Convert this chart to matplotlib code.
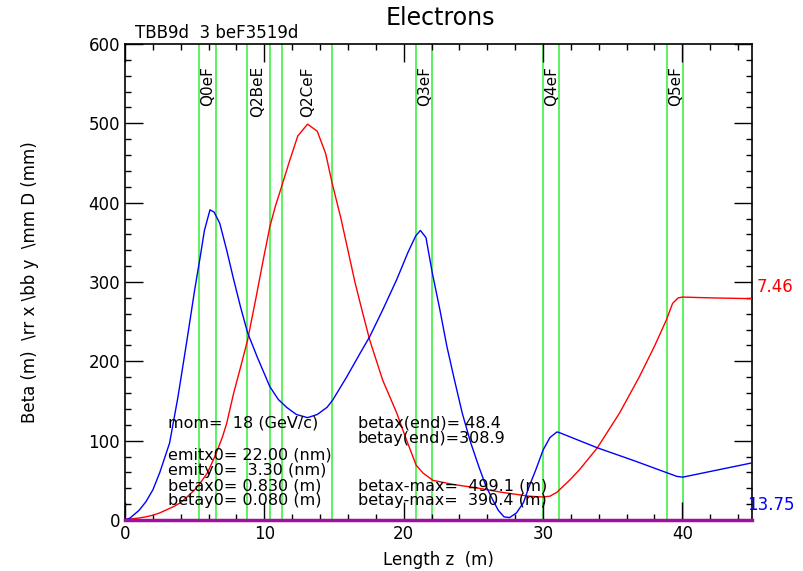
import matplotlib
matplotlib.use("Agg")
import matplotlib.pyplot as plt
from matplotlib.ticker import MultipleLocator

# beta x (red)
bx_z = [0.0, 0.5, 1.0, 1.5, 2.0, 2.5, 3.0, 3.5, 4.0, 4.45, 5.0, 5.33, 5.9, 6.5, 7.0,
        7.3, 7.8, 8.3, 8.8, 9.4, 9.9, 10.4, 10.8, 11.2, 11.8, 12.4, 13.1, 13.8,
        14.4, 14.86, 15.5, 16.0, 16.5, 17.0, 17.56, 18.5, 19.5, 20.2, 20.9, 21.4,
        22.1, 23.5, 25.4, 27.0, 29.0, 30.0, 30.5, 31.0, 31.9, 32.6, 33.9, 35.5,
        36.9, 38.0, 38.85, 39.3, 39.7, 40.02, 42.0, 45.0]
bx = [0.83, 1.5, 2.5, 4, 6, 9, 13, 17, 22, 29, 38, 45, 59, 82, 105,
      122, 160, 193, 227, 280, 326, 370, 396, 418, 452, 484, 499, 490,
      462, 425, 380, 340, 300, 265, 227, 176, 135, 101, 69, 59,
      50, 45, 40, 35, 30, 29, 30, 35, 50, 63, 91, 135,
      180, 219, 252, 273, 280, 281, 280, 279]

# beta y (blue)
by_z = [0.0, 0.36, 1.0, 1.5, 2.0, 2.5, 3.2, 3.8, 4.45, 5.0, 5.4, 5.7, 6.1, 6.4, 6.8,
        7.3, 7.8, 8.3, 8.8, 9.5, 10.4, 11.0, 11.6, 12.3, 13.1, 13.8, 14.5, 14.9,
        15.9, 16.9, 17.56, 18.5, 19.5, 20.3, 20.86, 21.2, 21.6, 22.06, 22.6, 23.1,
        23.6, 24.2, 24.8, 25.4, 25.9, 26.4, 26.8, 27.2, 27.6, 28.1, 28.6, 29.0,
        29.5, 30.0, 30.5, 31.0, 31.2, 33.9, 36.5, 39.6, 40.02, 45.0]
by = [0.08, 2.5, 12, 23, 38, 60, 97, 155, 227, 290, 332, 365, 391, 388, 374,
      340, 303, 268, 236, 205, 168, 152, 142, 133, 129, 133, 142, 151,
      180, 211, 231, 265, 303, 337, 358, 365, 356, 311, 265, 219,
      180, 135, 98, 67, 43, 25, 12, 4, 3, 9, 22, 42,
      64, 88, 104, 111, 110, 91, 75, 55, 54, 72]

# element edges (m) and names
edges = [5.33, 6.52, 8.79, 10.39, 11.28, 14.86, 20.86, 22.06, 29.99, 31.18, 38.9, 40.02]
names = ['Q0eF', 'Q2BeE', 'Q2CeF', 'Q3eF', 'Q4eF', 'Q5eF']
name_z = [5.95, 9.55, 13.1, 21.5, 30.6, 39.5]

fig = plt.figure(figsize=(8.04, 5.71), dpi=100)
ax = fig.add_axes([125/804, 1-520/571, 627/804, 476/571])

for e in edges:
    ax.axvline(e, color='#33ee33', lw=1.1, zorder=1)
for n, z in zip(names, name_z):
    ax.text(z, 572, n, rotation=90, ha='center', va='top', fontsize=11, zorder=3)

ax.plot(bx_z, bx, color='red', lw=1, zorder=4)
ax.plot(by_z, by, color='blue', lw=1, zorder=4)
ax.plot([0, 45], [0, 0], color='#a010a0', lw=2.5, zorder=5, clip_on=False)

ax.set_xlim(0, 45)
ax.set_ylim(0, 600)
ax.xaxis.set_major_locator(MultipleLocator(10))
ax.xaxis.set_minor_locator(MultipleLocator(2))
ax.yaxis.set_major_locator(MultipleLocator(100))
ax.yaxis.set_minor_locator(MultipleLocator(20))
ax.tick_params(which='both', direction='in', top=True, right=True, labelsize=12, width=1)
ax.tick_params(which='major', length=13)
ax.tick_params(which='minor', length=4.5)
for s in ax.spines.values():
    s.set_linewidth(1.2)

ax.set_xlabel('Length z  (m)', fontsize=12, labelpad=2)
ax.xaxis.set_label_coords(0.5, -0.065)
ax.set_ylabel('Beta (m)  \\rr x \\bb y  \\mm D (mm)', fontsize=12)
ax.yaxis.set_label_coords(-0.137, 0.5)

fig.text(440/804, 1-18/571, 'Electrons', fontsize=17, ha='center', va='center')
fig.text(135/804, 1-33/571, 'TBB9d  3 beF3519d', fontsize=12, ha='left', va='center')

left = [('mom=  18 (GeV/c)', 423), ('emitx0= 22.00 (nm)', 455), ('emity0=  3.30 (nm)', 470),
        ('betax0= 0.830 (m)', 486), ('betay0= 0.080 (m)', 501)]
right = [('betax(end)= 48.4', 423), ('betay(end)=308.9', 439),
         ('betax-max=  499.1 (m)', 486), ('betay-max=  390.4 (m)', 501)]
for t, y in left:
    fig.text(168/804, 1-y/571, t, fontsize=11.5, ha='left', va='center', zorder=6)
for t, y in right:
    fig.text(358/804, 1-y/571, t, fontsize=11.5, ha='left', va='center', zorder=6)

fig.text(757/804, 1-287/571, '7.46', color='red', fontsize=12, ha='left', va='center')
fig.text(747/804, 1-505/571, '13.75', color='blue', fontsize=12, ha='left', va='center')

fig.savefig('out.png', dpi=100)
